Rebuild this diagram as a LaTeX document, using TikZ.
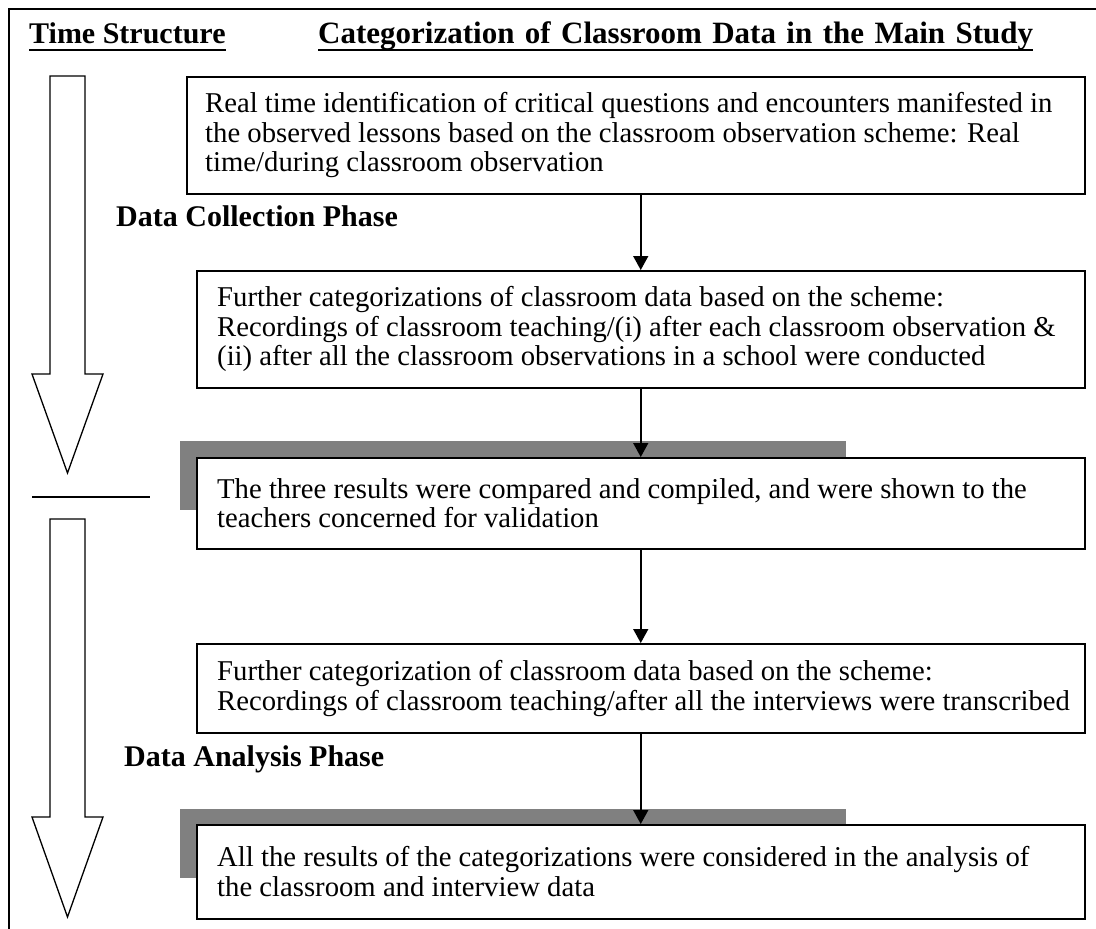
\documentclass[tikz,border=0pt]{standalone}
\usepackage{fontspec}
\setmainfont{Liberation Serif}
\usetikzlibrary{arrows.meta}
\begin{document}
\begin{tikzpicture}[x=1pt,y=-1pt,
  box/.style={draw, line width=1.5pt, fill=white, rectangle, inner sep=0pt, anchor=north west},
  txt/.style={align=left, inner sep=0pt, anchor=west, font=\fontsize{28.7}{29.5}\selectfont},
  hdr/.style={inner sep=0pt, anchor=base west, font=\fontsize{30}{34}\selectfont\bfseries},
  uline/.style={line width=2pt},
  flow/.style={line width=1.5pt, -{Triangle[width=15pt,length=14pt]}},
  bigarrow/.style={draw, line width=1.3pt, fill=white, line join=miter},
  shade/.style={fill=black!50, draw=none}]
\useasboundingbox (0,0) rectangle (1096,929);

% open frame: top and left rules only
\draw[line width=2pt] (9,929) -- (9,9) -- (1096,9);

% column headings
\node[hdr] (h1) at (29,43) {Time Structure};
\node[hdr, font=\fontsize{31}{34}\selectfont\bfseries] (h2) at (318,43) {\makebox[715pt][s]{Categorization of Classroom Data in the Main Study}};
\draw[uline] ([yshift=-7pt]h1.base west) -- ([yshift=-7pt]h1.base east);
\draw[uline] ([yshift=-7pt]h2.base west) -- ([yshift=-7pt]h2.base east);

% time-structure arrows and the phase divider
\draw[bigarrow] (50,76) -- (85,76) -- (85,374) -- (103,374) -- (67.5,473) -- (32,374) -- (50,374) -- cycle;
\draw[bigarrow] (50,519) -- (85,519) -- (85,817) -- (103,817) -- (67.5,917) -- (32,817) -- (50,817) -- cycle;
\draw[line width=1.5pt] (32,497) -- (150,497);

% shadow bars behind the two summary boxes
\fill[shade] (180,441) rectangle (846,510);
\fill[shade] (180,809) rectangle (846,878);

% step boxes
\node[box, minimum width=898pt, minimum height=117pt] (b1) at (186,76) {};
\node[box, minimum width=888pt, minimum height=117pt] (b2) at (196,270) {};
\node[box, minimum width=888pt, minimum height=91pt] (b3) at (196,457) {};
\node[box, minimum width=888pt, minimum height=89pt] (b4) at (196,643) {};
\node[box, minimum width=888pt, minimum height=94pt] (b5) at (196,824) {};

\node[txt] (t1) at ([xshift=19pt]b1.west) {Real time identification of critical questions and encounters manifested in\\the observed lessons based on the classroom observation scheme: Real\\time/during classroom observation};
\node[txt] (t2) at ([xshift=21pt]b2.west) {Further categorizations of classroom data based on the scheme:\\Recordings of classroom teaching/(i) after each classroom observation \&\\(ii) after all the classroom observations in a school were conducted};
\node[txt] (t3) at ([xshift=21pt]b3.west) {The three results were compared and compiled, and were shown to the\\teachers concerned for validation};
\node[txt] (t4) at ([xshift=21pt]b4.west) {Further categorization of classroom data based on the scheme:\\Recordings of classroom teaching/after all the interviews were transcribed};
\node[txt] (t5) at ([xshift=21pt]b5.west) {All the results of the categorizations were considered in the analysis of\\the classroom and interview data};

% phase labels
\node[hdr] (p1) at (116,226) {Data Collection Phase};
\node[hdr] (p2) at (124,766) {Data Analysis Phase};

% flow between steps
\draw[flow] (b2.north |- b1.south) -- (b2.north);
\draw[flow] (b2.south) -- (b3.north);
\draw[flow] (b3.south) -- (b4.north);
\draw[flow] (b4.south) -- (b5.north);
\end{tikzpicture}
\end{document}
